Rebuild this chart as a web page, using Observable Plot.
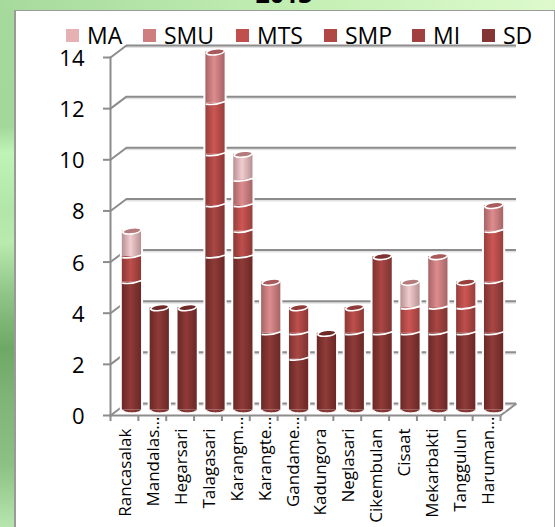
<!DOCTYPE html>
<html>
<head>
<meta charset="utf-8">
<script src="https://cdn.jsdelivr.net/npm/d3@7"></script>
<script src="https://cdn.jsdelivr.net/npm/@observablehq/plot@0.6"></script>
<style>
  html, body { margin: 0; padding: 0; width: 555px; height: 527px; overflow: hidden; }
  body {
    position: relative;
    font-family: "Open Sans", sans-serif;
    background: linear-gradient(180deg,
      #a6da9c 0, #a4d89a 24%, #c0f3b6 29%, #b2e6a8 40%, #b9eaae 46%,
      #8fc487 56%, #6ea866 66%, #80b578 76%, #8cc084 88%, #b6e6ae 100%);
  }
  #strip { position: absolute; left: 0; top: 0; width: 555px; height: 10px;
           background: linear-gradient(90deg, #a6da9c, #c4efb4 55%, #ddfacd); }
  #edge { position: absolute; left: 553px; top: 0; width: 2px; height: 527px; background: #dcf8cc; }
  #sheet { position: absolute; left: 14px; top: 10px; width: 538px; height: 530px; background: #fff;
           border: 1px solid #9a9a9a; border-left-width: 2px; border-right-width: 2px; }
  #title { position: absolute; left: 184px; width: 200px; top: -19px; text-align: center;
           font-size: 25px; line-height: 25px; font-weight: 700; color: #000; }
  #chart { position: absolute; left: 0; top: 0; }
  .key { position: absolute; top: 21px; font-size: 23px; line-height: 28px; color: #000; white-space: nowrap; }
  .key i { position: absolute; top: 8px; width: 13px; height: 13px; outline: 1.5px solid #fff; }
</style>
</head>
<body>
<div id="strip"></div>
<div id="edge"></div>
<div id="sheet"></div>
<div id="title">2013</div>
<div id="chart"></div>
<script>
// Schools per village, stacked from the base of each column upward.
const villages = ["Rancasalak", "Mandalas…", "Hegarsari", "Talagasari", "Karangm…", "Karangte…", "Gandame…",
  "Kadungora", "Neglasari", "Cikembulan", "Cisaat", "Mekarbakti", "Tanggulun", "Haruman…"];
const SD  = [5, 4, 4, 6, 6, 3, 2, 3, 3, 3, 3, 3, 3, 3];
const MI  = [0, 0, 0, 2, 0, 0, 1, 0, 0, 3, 0, 1, 0, 2];
const SMP = [1, 0, 0, 2, 1, 0, 1, 0, 1, 0, 0, 0, 1, 0];
const MTS = [0, 0, 0, 2, 1, 0, 0, 0, 0, 0, 1, 0, 1, 2];
const SMU = [0, 0, 0, 2, 1, 2, 0, 0, 0, 0, 0, 2, 0, 1];
const MA  = [1, 0, 0, 0, 1, 0, 0, 0, 0, 0, 1, 0, 0, 0];

const levels = ["SD", "MI", "SMP", "MTS", "SMU", "MA"];
const counts = [SD, MI, SMP, MTS, SMU, MA];
const yTicks = [0, 2, 4, 6, 8, 10, 12, 14];

// Swatch colour, shaded cylinder edge, lit cylinder centre, and top-cap colour per level.
const swatch = ["#833633", "#a0413f", "#b04845", "#c0504d", "#cf7e80", "#e6b1b3"];
const edge   = ["#6a2826", "#7e3331", "#8c3735", "#973f3c", "#a66466", "#b69092"];
const centre = ["#8f3b38", "#aa4744", "#be4f4c", "#cd5653", "#de8c8e", "#f2cdd0"];
const cap    = ["#6d2a28", "#7f3331", "#8f3a38", "#983f3d", "#a8595b", "#b57a7c"];

// Positions of the legend entries across the page.
const legendSwatchLeft = [66, 143, 236, 324, 412, 482];
const legendOrder = ["MA", "SMU", "MTS", "SMP", "MI", "SD"];

const rows = villages.flatMap((village, v) =>
  levels.flatMap((level, l) => counts[l][v] > 0 ? [{village, level, l, count: counts[l][v]}] : []));
const totals = villages.map((village, v) => ({
  village,
  total: d3.sum(counts, c => c[v]),
  top: counts.reduce((acc, c, l) => c[v] > 0 ? l : acc, 0)
}));
const shortNames = villages.filter(n => n.endsWith("…"));
const fullNames = villages.filter(n => !n.endsWith("…"));

// Offset of the columns and back wall from the front axes, in pixels.
const barShift = {dx: 7.5, dy: -5.5};
const halfStep = 390 / villages.length / 2;
const noText = () => "";

const halfBar = 9.7;
const wallDiagonal = {draw(c) { c.moveTo(0, 0); c.lineTo(16, -12); }};
const seamArc = {draw(c) { c.moveTo(-halfBar, 1); c.quadraticCurveTo(0, 2.4, halfBar, -1.6); }};
const baseCurve = {draw(c) {
  c.moveTo(-halfBar, -1);
  c.bezierCurveTo(-halfBar + 1, 4.2, halfBar - 1, 4.2, halfBar, -1);
  c.closePath();
}};
const capEllipse = {draw(c) {
  const w = halfBar - 0.6;
  c.moveTo(-w, 1);
  c.bezierCurveTo(-w + 2, -3.4, w - 1, -4.6, w, -1);
  c.bezierCurveTo(w - 2, 3.2, -w + 1, 4.4, -w, 1);
  c.closePath();
}};

const gray = "#8c8c8c";

// Horizontal shading that makes each stack segment read as a cylinder.
function gradients() {
  const ns = "http://www.w3.org/2000/svg";
  const defs = document.createElementNS(ns, "defs");
  levels.forEach((_, l) => {
    const g = document.createElementNS(ns, "linearGradient");
    g.setAttribute("id", `shade${l}`);
    [[0, edge[l]], [0.45, centre[l]], [1, edge[l]]].forEach(([o, col]) => {
      const s = document.createElementNS(ns, "stop");
      s.setAttribute("offset", o);
      s.setAttribute("stop-color", col);
      g.appendChild(s);
    });
    defs.appendChild(g);
  });
  return defs;
}

const stackOptions = {x: "village", y: "count", z: "level", order: levels};

const plot = Plot.plot({
  width: 555,
  height: 527,
  marginLeft: 110,
  marginRight: 55,
  marginTop: 57,
  marginBottom: 112,
  style: {background: "transparent", fontFamily: "'Open Sans', sans-serif", overflow: "visible"},
  x: {domain: villages, paddingInner: 0.31, paddingOuter: 0.155, align: 0.5, round: false, label: null},
  y: {domain: [0, 14], label: null},
  marks: [
    gradients,
    // back wall grid with a faint shadow line under it
    Plot.ruleY(yTicks, {stroke: "#e2e2e2", strokeWidth: 2, dx: 16, dy: -10.5}),
    Plot.ruleY(yTicks, {stroke: gray, strokeWidth: 2, dx: 16, dy: -12}),
    Plot.dot(yTicks, {y: d => d, frameAnchor: "left", symbol: wallDiagonal, stroke: gray, strokeWidth: 2}),
    Plot.dot([0], {y: d => d, frameAnchor: "right", symbol: wallDiagonal, stroke: gray, strokeWidth: 2}),
    Plot.frame({anchor: "left", stroke: gray, strokeWidth: 2}),
    Plot.frame({anchor: "bottom", stroke: gray, strokeWidth: 2}),

    // tick marks, on the value axis and at the category boundaries
    Plot.axisY(yTicks, {tickSize: 7, tickFormat: noText, stroke: gray, strokeWidth: 2, label: null}),
    Plot.axisX(villages, {tickSize: 6, tickFormat: noText, stroke: gray, strokeWidth: 2, dx: -halfStep, label: null}),
    Plot.axisX(villages.slice(-1), {tickSize: 6, tickFormat: noText, stroke: gray, strokeWidth: 2, dx: halfStep, label: null}),

    // axis text
    Plot.axisY(yTicks, {tickSize: 0, tickPadding: 26, fontSize: 22, dy: 1.5, fill: "#000", label: null}),
    Plot.axisX(fullNames, {tickSize: 0, tickPadding: 13, tickRotate: -90, fontSize: 17, dx: 1.5, fill: "#000", label: null}),
    Plot.axisX(shortNames, {tickSize: 0, tickPadding: 1, tickRotate: -90, fontSize: 17, dx: 1.5, fill: "#000", label: null}),

    // white halo around each column
    Plot.barY(totals, {x: "village", y: "total", fill: "#fff", stroke: "#fff", strokeWidth: 4, ...barShift}),

    // the cylinders
    Plot.dot(villages, {x: d => d, y: () => 0, symbol: baseCurve, fill: "url(#shade0)", stroke: "#fff", strokeWidth: 1, ...barShift}),
    Plot.barY(rows, Plot.stackY({...stackOptions, fill: {value: d => `url(#shade${d.l})`, scale: null}, ...barShift})),
    Plot.dot(rows, Plot.stackY2({...stackOptions, symbol: seamArc, fill: "none", stroke: "#fff", strokeWidth: 1.7, ...barShift})),
    Plot.dot(totals, {x: "village", y: "total", symbol: capEllipse,
      fill: {value: d => cap[d.top], scale: null}, stroke: "#fff", strokeWidth: 1.6, ...barShift})
  ]
});
document.getElementById("chart").appendChild(plot);

// Legend row, drawn from top of stack to bottom.
legendOrder.forEach((name, i) => {
  const key = document.createElement("div");
  key.className = "key";
  key.style.left = legendSwatchLeft[i] + "px";
  key.style.paddingLeft = "21px";
  const box = document.createElement("i");
  box.style.left = "0";
  box.style.background = swatch[levels.indexOf(name)];
  key.append(box, name);
  document.body.appendChild(key);
});
</script>
</body>
</html>
